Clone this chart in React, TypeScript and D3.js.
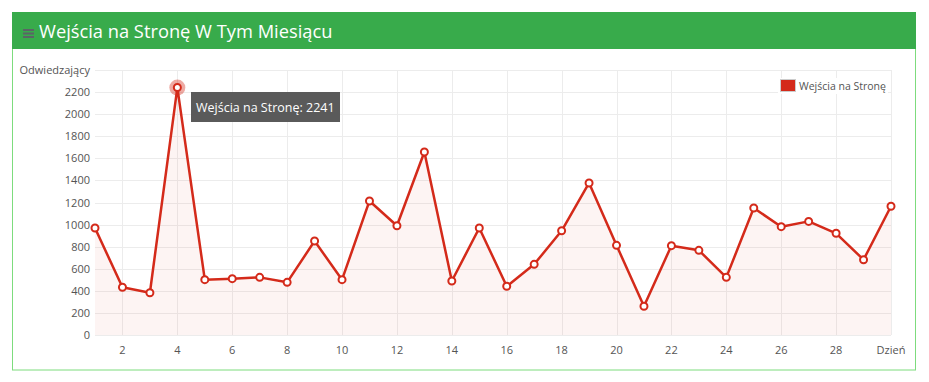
import React from "react";
import * as d3 from "d3";

const days: number[] = [1,2,3,4,5,6,7,8,9,10,11,12,13,14,15,16,17,18,19,20,21,22,23,24,25,26,27,28,29,30];
const visits: number[] = [969,432,383,2241,501,510,522,477,851,501,1214,989,1657,489,969,441,640,944,1377,812,260,809,767,522,1150,981,1029,921,682,1166];
const yTicks: number[] = [0,200,400,600,800,1000,1200,1400,1600,1800,2000,2200];
const xTicks: number[] = [2,4,6,8,10,12,14,16,18,20,22,24,26,28];
const title = "Wejścia na Stronę W Tym Miesiącu";
const seriesName = "Wejścia na Stronę";
const yAxisLabel = "Odwiedzający";
const xAxisLabel = "Dzień";
const highlightIndex = 3;

const W = 929, H = 382;
const left = 95, right = 891, top = 70, bottom = 335;
const red = "#d42a1a";
const font = "'Open Sans', sans-serif";

export default function App() {
  const x = d3.scaleLinear().domain([1, 30]).range([left, right]);
  const y = d3.scaleLinear().domain([0, 2400]).range([bottom, top]);
  const line = d3.line<number>().x((_, i) => x(days[i])).y((d) => y(d));
  const area = d3.area<number>().x((_, i) => x(days[i])).y0(y(0)).y1((d) => y(d));
  const hx = x(days[highlightIndex]);
  const hy = y(visits[highlightIndex]);
  const tipText = `${seriesName}: ${visits[highlightIndex]}`;

  return (
    <svg width={W} height={H} style={{ position: "absolute", left: 0, top: 0, fontFamily: font }}>
      <rect x={0} y={0} width={W} height={H} fill="#fff" />
      {/* panel */}
      <rect x={12.5} y={12.5} width={903} height={357.5} fill="#fff" stroke="#7ddc7d" strokeWidth={1} />
      <rect x={12} y={12} width={904} height={37} fill="#38ab4b" />
      <g fill="#5b6466">
        <rect x={23} y={29} width={11} height={2} />
        <rect x={23} y={32.5} width={11} height={2} />
        <rect x={23} y={36} width={11} height={2} />
      </g>
      <text x={39} y={37.5} fontSize={18.3} fill="#fff">{title}</text>

      {/* grid */}
      <g stroke="#ececec" strokeWidth={1}>
        {[...yTicks, 2400].map((t) => (
          <line key={"h" + t} x1={left} x2={right} y1={Math.round(y(t)) + 0.5} y2={Math.round(y(t)) + 0.5} />
        ))}
        {[...xTicks, 30].map((t) => (
          <line key={"v" + t} x1={Math.round(x(t)) + 0.5} x2={Math.round(x(t)) + 0.5} y1={top} y2={bottom} />
        ))}
      </g>

      {/* area + line */}
      <path d={area(visits) || ""} fill={red} fillOpacity={0.05} />
      <path d={line(visits) || ""} fill="none" stroke={red} strokeWidth={2.5} strokeLinejoin="round" />
      <circle cx={hx} cy={hy} r={8} fill={red} fillOpacity={0.4} />
      {visits.map((v, i) => (
        <circle key={i} cx={x(days[i])} cy={y(v)} r={3.5} fill="#fff" stroke={red} strokeWidth={2} />
      ))}

      {/* y labels */}
      <g fontSize={11} fill="#545454" textAnchor="end">
        {yTicks.map((t) => (
          <text key={t} x={90} y={y(t) + 4}>{t}</text>
        ))}
        <text x={90} y={y(2400) + 4}>{yAxisLabel}</text>
      </g>
      {/* x labels */}
      <g fontSize={11} fill="#545454" textAnchor="middle">
        {xTicks.map((t) => (
          <text key={t} x={x(t)} y={354}>{t}</text>
        ))}
        <text x={x(30)} y={354}>{xAxisLabel}</text>
      </g>

      {/* legend */}
      <rect x={778} y={78} width={110} height={16} fill="#fff" />
      <rect x={780.5} y={79.5} width={15} height={12} fill={red} stroke="#ccc" strokeWidth={1} />
      <text x={799} y={90} fontSize={10.5} fill="#545454">{seriesName}</text>

      {/* tooltip */}
      <rect x={191} y={92} width={149} height={30} fill="#555" fillOpacity={0.97} />
      <text x={196} y={111.5} fontSize={12.5} fill="#fff">{tipText}</text>
    </svg>
  );
}
